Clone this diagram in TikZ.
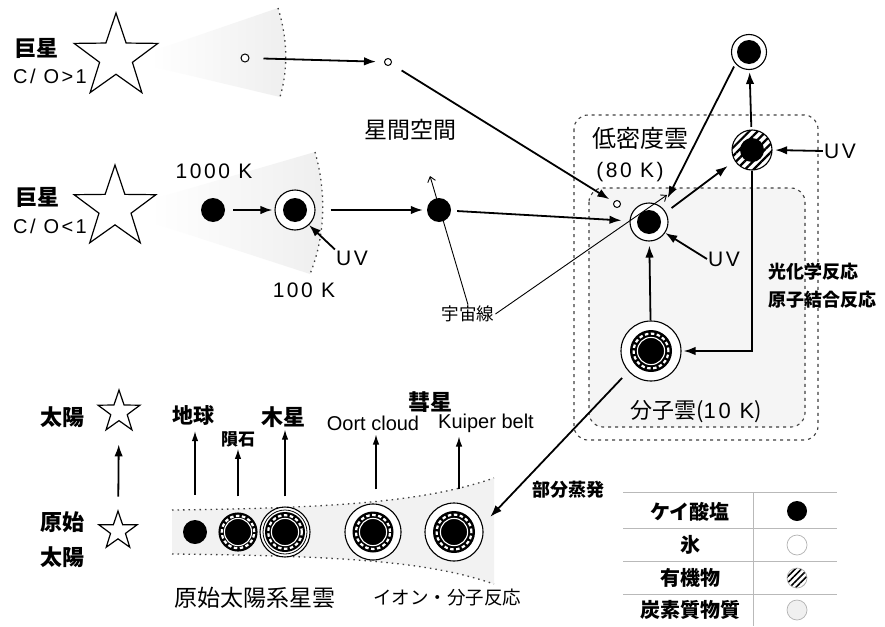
\documentclass[tikz,border=0pt]{standalone}
\usepackage{fontspec}
\setmainfont{Liberation Sans}
\newfontfamily\jp{Noto Sans CJK JP}
\newfontfamily\lsp[LetterSpace=12]{Liberation Sans}
\usetikzlibrary{shapes.geometric, arrows.meta, patterns.meta}
\newcommand{\coreat}[2]{\fill (#1.center) circle[radius=#2];}
\newcommand{\grainat}[3]{%
  \fill (#1.center) circle[radius=#2];
  \draw[white, line width=2.2pt, dash pattern=on 3.5pt off 2.5pt] (#1.center) circle[radius=#3];
  \draw[white, line width=1.1pt] (#1.center) circle[radius=13.6pt];
  \fill (#1.center) circle[radius=12.3pt];
}
\begin{document}
\begin{tikzpicture}[x=1pt,y=-1pt,
  jt/.style={font=\jp\fontsize{22}{24}\selectfont, inner sep=1pt},
  jtb/.style={font=\jp\bfseries\fontsize{22}{24}\selectfont, inner sep=1pt},
  js/.style={font=\jp\fontsize{18.5}{20}\selectfont, inner sep=1pt},
  jsb/.style={font=\jp\bfseries\fontsize{18}{20}\selectfont, inner sep=1pt},
  lg/.style={font=\jp\bfseries\fontsize{20}{22}\selectfont, inner sep=1pt},
  lt/.style={font=\lsp\fontsize{21}{23}\selectfont, inner sep=1pt},
  lo/.style={font=\fontsize{20}{22}\selectfont, inner sep=1pt},
  star5/.style={star, star points=5, star point ratio=2.55, draw, line width=1.2pt, inner sep=0pt},
  hollow/.style={circle, draw, line width=1pt, fill=white, inner sep=0pt},
  core/.style={circle, fill=black, minimum size=24pt, inner sep=0pt},
  icy/.style={circle, draw, line width=1.1pt, fill=white, inner sep=0pt},
  hatch/.style={circle, draw, line width=1.1pt, inner sep=0pt, preaction={fill=white},
     pattern={Lines[angle=45,distance=6pt,line width=2.2pt]}},
  layer/.style={circle, draw, line width=1.1pt, fill=white, inner sep=0pt},
  dotl/.style={line width=1.3pt, dash pattern=on 1.5pt off 4pt, black!75},
  boxl/.style={line width=1.1pt, dash pattern=on 3pt off 4pt, black!75},
  arr/.style={line width=1.8pt, -{Latex[length=12pt,width=8.5pt]}},
  arrs/.style={line width=1.2pt, -{Latex[length=10pt,width=6.5pt]}},
  ray/.style={line width=0.9pt, -{Straight Barb[length=5pt,width=8pt]}}
]
\useasboundingbox (0,0) rectangle (885,626);
\fill[white] (0,0) rectangle (885,626);

% hazes
\shade[left color=white,right color=gray!13] (150,52) -- (278,8) .. controls (288,40) and (288,70) .. (280,97) -- (150,66) -- cycle;
\shade[left color=white,right color=gray!13] (150,200) -- (315,152) .. controls (326,190) and (326,235) .. (310,274) -- (150,222) -- cycle;
\draw[dotl] (278,8) .. controls (288,40) and (288,70) .. (280,97);
\draw[dotl] (315,152) .. controls (326,190) and (326,235) .. (310,274);

% cloud boxes
\draw[boxl, rounded corners=14pt] (574,115) rectangle (818,440);
\filldraw[boxl, fill=gray!8, rounded corners=14pt] (589,188) rectangle (805,427);

% protosolar nebula funnel
\fill[gray!10] (172,510) .. controls (350,508) and (430,500) .. (494,478) -- (494,584) .. controls (430,562) and (350,556) .. (172,554) -- cycle;
\draw[dotl] (172,510) .. controls (350,508) and (430,500) .. (494,478);
\draw[dotl] (172,554) .. controls (350,556) and (430,562) .. (494,584);

% legend table
\draw[gray!55, line width=0.7pt] (623,492) -- (837,492) (623,528) -- (837,528) (623,561) -- (837,561) (623,594) -- (837,594) (753,492) -- (753,626);

% stars
\node[star5, minimum size=88pt] (gs1) at (116,57) {};
\node[star5, minimum size=86pt] (gs2) at (115,208) {};
\node[star5, minimum size=44pt] (sun) at (119,412) {};
\node[star5, minimum size=40pt] (psun) at (118,531) {};

% grains
\node[hollow, minimum size=8pt] (h1) at (245,58) {};
\node[hollow, minimum size=7pt] (h2) at (388,62) {};
\node[hollow, minimum size=7pt] (h3) at (617,204) {};
\node[core] (d1) at (213,210) {};
\node[icy, minimum size=40pt] (r1) at (295,210) {};
\coreat{r1}{12pt}
\node[core] (d2) at (439,210) {};
\node[icy, minimum size=38pt] (r80) at (649,222) {};
\coreat{r80}{12pt}
\node[icy, minimum size=35pt] (top) at (749,52) {};
\coreat{top}{12pt}
\node[hatch, minimum size=40pt] (hat) at (752,150) {};
\coreat{hat}{12pt}
\node[layer, minimum size=60pt] (mol) at (651,351) {};
\grainat{mol}{21pt}{17.4pt}
\node[core] (n1) at (195,532) {};
\node[layer, minimum size=38pt] (n2) at (238,532) {};
\grainat{n2}{19pt}{16.2pt}
\node[layer, minimum size=50pt] (n3) at (285,532) {};
\draw[line width=0.8pt] (n3.center) circle[radius=22pt];
\grainat{n3}{20pt}{16.8pt}
\node[layer, minimum size=56pt] (n4) at (373,532) {};
\grainat{n4}{20.5pt}{17pt}
\node[layer, minimum size=58pt] (n5) at (454,532) {};
\grainat{n5}{21pt}{17.4pt}

% legend icons
\node[core, minimum size=20pt] (lc1) at (797,511) {};
\node[circle, draw=gray!60, line width=0.7pt, minimum size=20pt, inner sep=0pt] (lc2) at (797,545) {};
\node[circle, draw=gray!60, line width=0.7pt, minimum size=20pt, inner sep=0pt, pattern={Lines[angle=45,distance=4.5pt,line width=1.6pt]}] (lc3) at (797,578) {};
\node[circle, draw=gray!60, line width=0.7pt, fill=gray!12, minimum size=20pt, inner sep=0pt] (lc4) at (797,610) {};

% texts
\node[jtb] (t1) at (36,48) {巨星};
\node[lt, font=\lsp\fontsize{20}{22}\selectfont] (t2) at (50,76) {C/ O>1};
\node[jtb] (t3) at (37,197) {巨星};
\node[lt, font=\lsp\fontsize{20}{22}\selectfont] (t4) at (50,226) {C/ O<1};
\node[lt] (k1000) at (214,171) {1000 K};
\node[lt] (k100) at (304,290) {100 K};
\node[lt] (uv1) at (352,258) {UV};
\node[jt, font=\jp\fontsize{23}{25}\selectfont] (isp) at (410,130) {星間空間};
\node[js, font=\jp\fontsize{17.5}{19}\selectfont] (cr) at (468,314) {宇宙線};
\node[jt, font=\jp\fontsize{24}{26}\selectfont] (ldc) at (640,138) {低密度雲};
\node[lt] (k80) at (630,172) {(80 K)};
\node[lt] (uv2) at (724,259) {UV};
\node[lt] (uv3) at (840,151) {UV};
\node[jsb, anchor=west] (pc) at (767,272) {光化学反応};
\node[jsb, anchor=west] (ab) at (767,300) {原子結合反応};
\node[jt] (mc) at (696,412) {分子雲({\lsp 10 K})};
\node[jsb] (evap) at (568,490) {部分蒸発};
\node[jtb] (tsun) at (62,417) {太陽};
\node[jtb] (tps1) at (62,522) {原始};
\node[jtb] (tps2) at (62,557) {太陽};
\node[jtb, font=\jp\bfseries\fontsize{21}{23}\selectfont] (earth) at (193,415) {地球};
\node[jtb, font=\jp\bfseries\fontsize{17}{19}\selectfont] (met) at (238,439) {隕石};
\node[jtb] (jup) at (283,417) {木星};
\node[jtb] (comet) at (430,402) {彗星};
\node[lo] (oort) at (373,423) {Oort cloud};
\node[lo] (kup) at (486,423) {Kuiper belt};
\node[jt, font=\jp\fontsize{23}{25}\selectfont] (psn) at (255,598) {原始太陽系星雲};
\node[js] (ion) at (447,598) {イオン・分子反応};
\node[lg] (lg1) at (690,512) {ケイ酸塩};
\node[lg] (lg2) at (690,545) {氷};
\node[lg] (lg3) at (690,578) {有機物};
\node[lg] (lg4) at (690,610) {炭素質物質};

% arrows: upper part
\draw[arr, shorten <=14pt, shorten >=8pt] (h1) -- (h2);
\draw[arr, shorten <=12pt, shorten >=5pt] (h2) -- (h3);
\draw[arr, shorten <=8pt, shorten >=2pt] (d1) -- (r1);
\draw[arr] (uv1.north west) -- (r1.-47);
\draw[arr, shorten <=15pt, shorten >=4pt] (r1) -- (d2);
\draw[arr, shorten <=6pt, shorten >=8pt] (d2) -- (r80);
\coordinate (cr1tip) at (430,176);
\coordinate (cr2tip) at (667,195);
\draw[ray] (cr.north) -- (cr1tip);
\draw[ray] (cr.east) -- (cr2tip);
\draw[arr] (uv2.west) -- (r80.-34);
\draw[arr, shorten <=7pt, shorten >=8pt] (r80.30) -- (hat.212);
\draw[arr, shorten <=3pt, shorten >=11pt] (top.221) -- (r80.46);
\draw[arr, shorten <=2pt, shorten >=2pt] (hat) -- (top);
\draw[arr, shorten >=2pt] (uv3.west) -- (hat.east);
\draw[arr, shorten >=2pt] (hat.south) |- (mol.east);
\draw[arr, shorten >=4pt] (mol) -- (r80);
\draw[arr, shorten <=9pt, shorten >=11pt] (mol.222) -- (n5.14);

% arrows: lower part
\draw[arr, shorten <=13pt, shorten >=23pt] (psun) -- (sun);
\draw[arrs, shorten <=25pt, shorten >=5pt] (n1.north) -- (n1.north |- earth.south);
\draw[arrs, shorten <=16pt, shorten >=1pt] (n2.north) -- (n2.north |- met.south);
\draw[arrs, shorten <=10pt, shorten >=1pt] (n3.north) -- (n3.north |- jup.south);
\draw[arrs, shorten <=14pt, shorten >=3pt] ([xshift=3pt]n4.north) -- ([xshift=3pt]n4.north |- oort.south);
\draw[arrs, shorten <=13pt, shorten >=3pt] ([xshift=5pt]n5.north) -- ([xshift=5pt]n5.north |- kup.south);
\end{tikzpicture}
\end{document}
